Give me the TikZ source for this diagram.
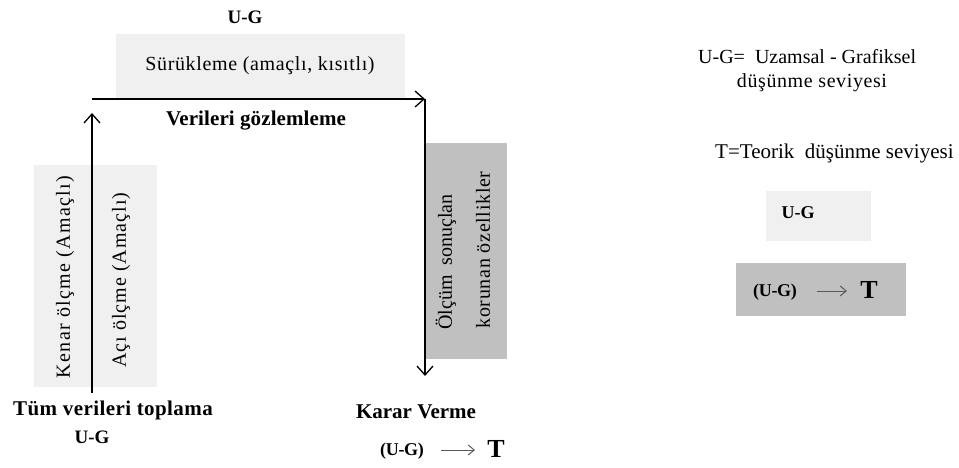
\documentclass[tikz,border=0pt]{standalone}
\usepackage{fontspec}
\setmainfont{Liberation Serif}
\usetikzlibrary{arrows.meta}
\definecolor{lightbox}{HTML}{F0F0F0}
\definecolor{darkbox}{HTML}{C0C0C0}
\newcommand{\fs}[2]{\fontsize{#1}{#1}\selectfont\addfontfeature{LetterSpace=#2}}
\tikzset{
  lbl/.style={inner sep=0pt, font=\fontsize{20}{22}\selectfont},
  blbl/.style={inner sep=0pt, font=\fontsize{20}{22}\selectfont\bfseries},
  lightfill/.style={fill=lightbox, draw=none},
  darkfill/.style={fill=darkbox, draw=none},
  conn/.style={line width=1.3pt, -{Straight Barb[length=9pt,width=16pt,line width=1.3pt]}},
  smallarrow/.style={line width=1pt, draw=black!65, -{Straight Barb[length=6pt,width=10pt,line width=1pt]}},
}
\begin{document}
\begin{tikzpicture}[x=1pt,y=-1pt]
\useasboundingbox (0,0) rectangle (959,468);
% boxes
\node[lightfill, minimum width=289pt, minimum height=64pt, anchor=north west] (surbox) at (116,34) {};
\node[lightfill, minimum width=123pt, minimum height=222pt, anchor=north west] (olcbox) at (34,165) {};
\node[darkfill, minimum width=82pt, minimum height=216pt, anchor=north west] (korbox) at (425,143) {};
\node[lightfill, minimum width=105pt, minimum height=50pt, anchor=north west] (ugbox) at (766,191) {};
\node[darkfill, minimum width=170pt, minimum height=53pt, anchor=north west] (utbox) at (736,263) {};
% texts
\node[blbl, font=\fs{19}{0}\bfseries] (ugtop) at (245,17) {U-G};
\node[lbl, font=\fs{20}{3.2}] (sur) at (260,66) {Sürükleme (amaçlı, kısıtlı)};
\node[blbl, font=\fs{21}{0.5}\bfseries] (ver) at (256,121) {Verileri gözlemleme};
\node[lbl, rotate=90, font=\fs{20}{6.5}] (kenar) at (65,277) {Kenar ölçme (Amaçlı)};
\node[lbl, rotate=90, font=\fs{20}{5}] (aci) at (121,280) {Açı ölçme (Amaçlı)};
\node[lbl, rotate=90, font=\fs{20}{0}] (olcum) at (446,262) {Ölçüm\ \ sonuçlan};
\node[lbl, rotate=90, font=\fs{20}{3.4}] (korunan) at (483,250) {korunan özellikler};
\node[blbl, font=\fs{21}{2}\bfseries] (tum) at (113,410) {Tüm verileri toplama};
\node[blbl, font=\fs{19}{0}\bfseries] (ugbot) at (92,437) {U-G};
\node[blbl, font=\fs{21}{0}\bfseries] (karar) at (416,412) {Karar Verme};
\node[inner sep=0pt, font=\fs{18}{-2}\bfseries] (kug) at (402,451) {(U-G)};
\node[inner sep=0pt, font=\fs{26}{0}\bfseries] (kt) at (496,449) {T};
\draw[smallarrow] (kug.east) ++(17,-1) coordinate (ka1) -- ++(34,0) coordinate (ka2);
% legend
\node[lbl, anchor=west, font=\fs{20}{0}] (leg1) at (698,57) {U-G=\ \ Uzamsal - Grafiksel};
\node[lbl, font=\fs{20}{3}] (leg2) at (812,83) {düşünme seviyesi};
\node[lbl, anchor=west, font=\fs{21}{0}] (leg3) at (715,153) {T=Teorik\ \ düşünme seviyesi};
\node[blbl, font=\fs{18}{0}\bfseries] (ugin) at (798,213) {U-G};
\node[inner sep=0pt, font=\fs{18}{-2}\bfseries] (lug) at (775,292) {(U-G)};
\node[inner sep=0pt, font=\fs{26}{0}\bfseries] (lt) at (869,290) {T};
\draw[smallarrow] (lug.east) ++(20,-1) coordinate (la1) -- ++(30,0) coordinate (la2);
% connectors
\coordinate (hstart) at (92,99);
\coordinate (corner) at (425,99);
\coordinate (upstart) at (92,393);
\coordinate (uptip) at (92,113);
\coordinate (downtip) at (425,376);
\draw[conn] (hstart) -- (corner);
\draw[conn] (corner) -- (downtip);
\draw[conn] (upstart) -- (uptip);
\end{tikzpicture}
\end{document}
